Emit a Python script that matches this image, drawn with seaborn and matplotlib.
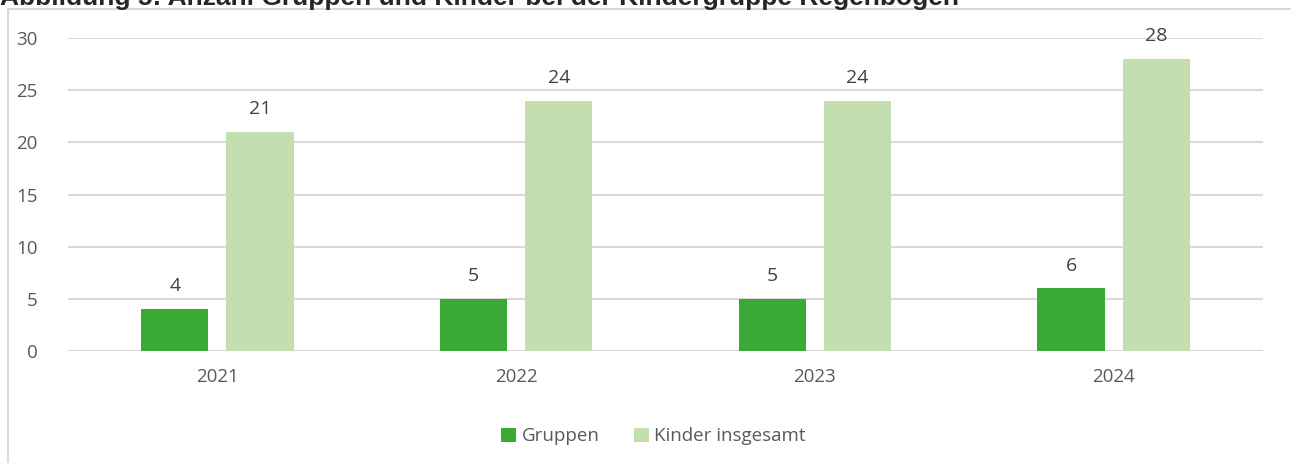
import numpy as np
import pandas as pd
import matplotlib
matplotlib.use("Agg")
import matplotlib.pyplot as plt
from matplotlib.patches import Rectangle
import seaborn as sns

# daten
jahre = ["2021", "2022", "2023", "2024"]
gruppen = [4, 5, 5, 6]
kinder = [21, 24, 24, 28]
serien = ["Gruppen", "Kinder insgesamt"]
farben = ["#3aaa35", "#c3dfb0"]
titel = "Abbildung 5: Anzahl Gruppen und Kinder bei der Kindergruppe Regenbogen"

df = pd.DataFrame({
    "Jahr": jahre * 2,
    "Wert": gruppen + kinder,
    "Serie": [serien[0]] * len(jahre) + [serien[1]] * len(jahre),
})

sns.set_style("white")
plt.rcParams["font.family"] = ["Open Sans", "DejaVu Sans"]
grau = "#595959"

fig = plt.figure(figsize=(12.91, 4.63), dpi=100)
ax = fig.add_axes([68 / 1291, 1 - 351 / 463, (1263 - 68) / 1291, (351 - 38) / 463])

sns.barplot(data=df, x="Jahr", y="Wert", hue="Serie", palette=farben,
            width=0.57, gap=0.21, ax=ax, legend=True, saturation=1, linewidth=0)

for c in ax.containers:
    ax.bar_label(c, padding=10, fontsize=14, color="#404040")

ax.set_ylim(0, 30)
ax.set_yticks(range(0, 31, 5))
ax.yaxis.grid(True, color="#d9d9d9", linewidth=1.5)
ax.set_axisbelow(True)
for s in ax.spines.values():
    s.set_visible(False)
ax.set_xlabel("")
ax.set_ylabel("")
ax.tick_params(axis="both", length=0, labelsize=13.5, colors=grau)
ax.tick_params(axis="y", pad=22)
ax.tick_params(axis="x", pad=12)

leg = ax.legend(loc="upper center", bbox_to_anchor=(0.49, -0.19), ncol=2, frameon=False,
                fontsize=13.5, handlelength=0.8, handleheight=0.8, handletextpad=0.3,
                columnspacing=1.8)
for t in leg.get_texts():
    t.set_color(grau)

# rahmen und (oben abgeschnittener) titel
fig.patches.append(Rectangle((8 / 1291, -0.1), 1.1, 1.1 - 9 / 463, transform=fig.transFigure,
                             fill=False, edgecolor="#d9d9d9", linewidth=1.5))
fig.text(0.0, 1 - 5 / 463, titel, fontsize=19, fontweight="bold", va="baseline", ha="left",
         family=["Liberation Sans", "DejaVu Sans"])

fig.savefig("out.png", dpi=100)
